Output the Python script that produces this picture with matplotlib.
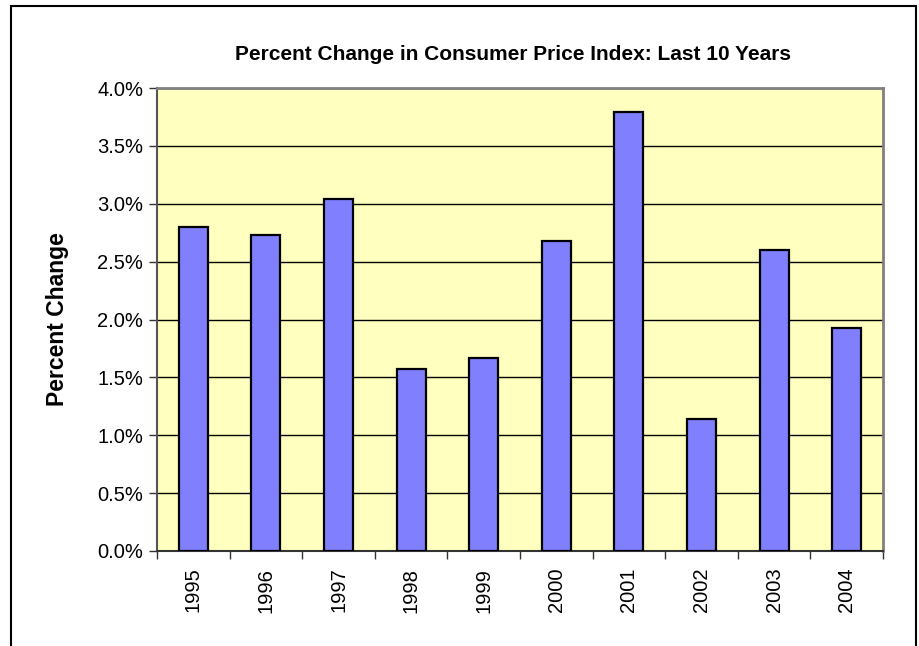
import numpy as np
import matplotlib
matplotlib.use("Agg")
import matplotlib.pyplot as plt
from matplotlib.patches import Rectangle
from matplotlib.ticker import FuncFormatter, MultipleLocator

years = ['1995', '1996', '1997', '1998', '1999', '2000', '2001', '2002', '2003', '2004']
pct_change = [2.80, 2.73, 3.04, 1.57, 1.67, 2.68, 3.79, 1.14, 2.60, 1.93]

plt.rcParams['font.family'] = ['Liberation Sans', 'DejaVu Sans']

W, H = 919, 646
fg = plt.figure(figsize=(W / 100, H / 100), dpi=100)

# outer chart border (bottom runs off the image)
fg.patches.append(Rectangle((11 / W, -0.05), (916 - 11) / W, 1.05 - 6 / H,
                            transform=fg.transFigure, fill=False,
                            edgecolor='black', linewidth=1.5))

left, right, top, bottom = 157, 883, 88, 551
ax = fg.add_axes([left / W, 1 - bottom / H, (right - left) / W, (bottom - top) / H])
ax.set_facecolor('#FFFFC0')

x = np.arange(len(years))
ax.bar(x, pct_change, width=0.4, color='#8080FF', edgecolor='black',
       linewidth=1.6, zorder=3)

ax.set_xlim(-0.5, len(years) - 0.5)
ax.set_ylim(0, 4.0)
ax.yaxis.set_major_locator(MultipleLocator(0.5))
ax.yaxis.set_major_formatter(FuncFormatter(lambda v, p: "%.1f%%" % v))
ax.grid(axis='y', color='black', linewidth=1.0, zorder=1)

ax.set_xticks(x)
ax.set_xticklabels(years, rotation=90)
ax.set_xticks(np.arange(-0.5, len(years), 1.0), minor=True)
ax.tick_params(axis='x', which='major', length=0, pad=12, labelsize=14.5)
ax.tick_params(axis='x', which='minor', length=6, width=1, color='#333333')
ax.tick_params(axis='y', length=6, width=1, color='#333333', labelsize=14.5, pad=4)

for side in ['top', 'right']:
    ax.spines[side].set_color('#808080')
    ax.spines[side].set_linewidth(2)
ax.spines['left'].set_color('#555555')
ax.spines['left'].set_linewidth(1.5)
ax.spines['bottom'].set_color('#333333')
ax.spines['bottom'].set_linewidth(1.5)

ax.set_ylabel("Percent Change", fontsize=16.5, fontweight='bold', labelpad=20)
fg.text(513 / W, 1 - 54 / H, "Percent Change in Consumer Price Index: Last 10 Years",
        ha='center', va='center', fontsize=15, fontweight='bold')

fg.savefig('out.png', dpi=100)
